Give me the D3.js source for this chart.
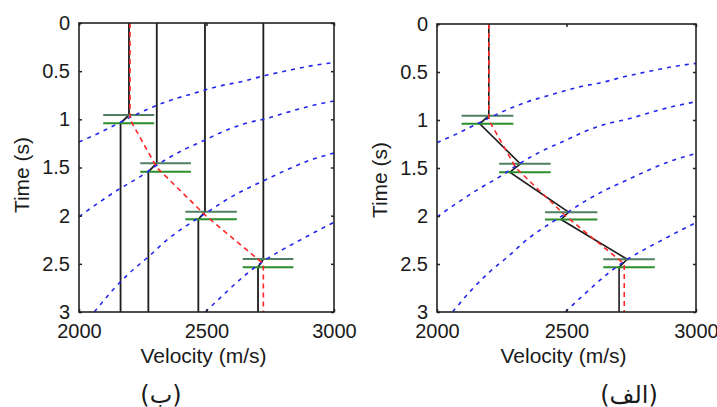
<!DOCTYPE html>
<html>
<head>
<meta charset="utf-8">
<script src="https://cdn.jsdelivr.net/npm/d3@7"></script>
<style>
  html, body { margin: 0; padding: 0; background: #fff; }
  svg { display: block; }
  text { font-family: "Liberation Sans", Arial, "DejaVu Sans", sans-serif; fill: #1a1a1a; }
</style>
</head>
<body>
<svg id="chart" width="717" height="407"></svg>
<script>
// ---------- data ----------
const velTicks = [2000, 2500, 3000];
const timeTicks = [0, 0.5, 1, 1.5, 2, 2.5, 3];
const timeTickLabels = ["0", "0.5", "1", "1.5", "2", "2.5", "3"];
const velTickLabels = ["2000", "2500", "3000"];
const panelLabels = ["(ب)", "(الف)"];
const xTitle = "Velocity (m/s)";
const yTitle = "Time (s)";

// blue dashed moveout curves (velocity, time)
const curve1V = [2000, 2080, 2170, 2260, 2350, 2450, 2550, 2640, 2730, 2820, 2910, 3000];
const curve1T = [1.235, 1.14, 1.02, 0.905, 0.81, 0.73, 0.655, 0.607, 0.545, 0.493, 0.445, 0.41];
const curve2V = [2000, 2080, 2160, 2240, 2315, 2400, 2490, 2580, 2670, 2730, 2820, 2910, 3000];
const curve2T = [2.01, 1.86, 1.72, 1.595, 1.46, 1.33, 1.22, 1.11, 1.03, 0.995, 0.925, 0.86, 0.81];
const curve3V = [2060, 2130, 2200, 2275, 2350, 2430, 2500, 2575, 2650, 2730, 2810, 2900, 3000];
const curve3T = [3.0, 2.78, 2.59, 2.42, 2.24, 2.09, 1.97, 1.84, 1.73, 1.63, 1.53, 1.43, 1.35];
const curve4V = [2495, 2575, 2655, 2730, 2800, 2870, 2940, 3000];
const curve4T = [3.0, 2.80, 2.61, 2.46, 2.35, 2.25, 2.15, 2.07];

// green pick bars
const pickTopT = [0.955, 1.457, 1.96, 2.45];
const pickBotT = [1.04, 1.543, 2.037, 2.535];
const barLeftV = [2095, 2240, 2417, 2642];
const barRightV = [2295, 2439, 2619, 2841];

// black step lines, panel (ب)
const stepTopV = [2196, 2305, 2494, 2723];
const stepBotV = [2163, 2272, 2468, 2702];
// black zig-zag line, panel (الف)
const zigTopV = [2200, 2322, 2508, 2734];
const zigBotV = [2165, 2281, 2479, 2703];

// red dashed reference
const refV = [2200, 2200, 2305, 2497, 2723, 2723];
const refT = [0, 1.0, 1.5, 2.0, 2.5, 3.0];

// ---------- drawing ----------
const svg = d3.select("#chart");
const panels = [
  { x0: 79, x1: 334, y0: 23, y1: 312, label: panelLabels[0], labelX: 161, titleY: 175, kind: "steps" },
  { x0: 437, x1: 696, y0: 24, y1: 312, label: panelLabels[1], labelX: 629, titleY: 180, kind: "zig" }
];

const curves = [
  [curve1V, curve1T], [curve2V, curve2T], [curve3V, curve3T], [curve4V, curve4T]
];

panels.forEach((p, pi) => {
  const x = d3.scaleLinear().domain([2000, 3000]).range([p.x0, p.x1]);
  const y = d3.scaleLinear().domain([0, 3]).range([p.y0, p.y1]);
  const g = svg.append("g");
  const clipId = "clip" + pi;
  svg.append("clipPath").attr("id", clipId)
    .append("rect").attr("x", p.x0).attr("y", p.y0)
    .attr("width", p.x1 - p.x0).attr("height", p.y1 - p.y0);
  const plot = g.append("g").attr("clip-path", `url(#${clipId})`);

  const line = d3.line().x(d => x(d[0])).y(d => y(d[1]));

  // black lines
  if (p.kind === "steps") {
    stepTopV.forEach((v, i) => {
      const pts = [[v, 0], [v, pickTopT[i]], [stepBotV[i], pickBotT[i]], [stepBotV[i], 3]];
      plot.append("path").attr("d", line(pts))
        .attr("fill", "none").attr("stroke", "#1c1c1c").attr("stroke-width", 1.8);
    });
  } else {
    const pts = [[zigTopV[0], 0]];
    zigTopV.forEach((v, i) => {
      pts.push([v, pickTopT[i]]);
      pts.push([zigBotV[i], pickBotT[i]]);
    });
    pts.push([zigBotV[zigBotV.length - 1], 3]);
    plot.append("path").attr("d", line(pts))
      .attr("fill", "none").attr("stroke", "#1c1c1c").attr("stroke-width", 1.6);
  }

  // green bars
  pickTopT.forEach((t, i) => {
    plot.append("line")
      .attr("x1", x(barLeftV[i])).attr("x2", x(barRightV[i]))
      .attr("y1", y(t)).attr("y2", y(t))
      .attr("stroke", "#4f8062").attr("stroke-width", 2);
    plot.append("line")
      .attr("x1", x(barLeftV[i])).attr("x2", x(barRightV[i]))
      .attr("y1", y(pickBotT[i])).attr("y2", y(pickBotT[i]))
      .attr("stroke", "#2a8f2a").attr("stroke-width", 2);
  });

  // blue dashed curves
  const cl = d3.line().x(d => x(d[0])).y(d => y(d[1])).curve(d3.curveMonotoneX);
  curves.forEach(([vs, ts]) => {
    const pts = vs.map((v, i) => [v, ts[i]]);
    plot.append("path").attr("d", cl(pts))
      .attr("fill", "none").attr("stroke", "#2424f0").attr("stroke-width", 1.6)
      .attr("stroke-dasharray", "4,5");
  });

  // red dashed reference
  const rp = refV.map((v, i) => [v, refT[i]]);
  plot.append("path").attr("d", line(rp))
    .attr("fill", "none").attr("stroke", "#ff2626").attr("stroke-width", 1.6)
    .attr("stroke-dasharray", "5,4");

  // axes
  const fontSize = 20;
  const yl = g.append("g").attr("transform", `translate(${p.x0},0)`)
    .call(d3.axisLeft(y).tickValues(timeTicks).tickFormat((d, i) => timeTickLabels[i])
      .tickSizeInner(-3).tickSizeOuter(0).tickPadding(9));
  const yr = g.append("g").attr("transform", `translate(${p.x1},0)`)
    .call(d3.axisRight(y).tickValues(timeTicks).tickFormat("")
      .tickSizeInner(-3).tickSizeOuter(0));
  const xb = g.append("g").attr("transform", `translate(0,${p.y1})`)
    .call(d3.axisBottom(x).tickValues(velTicks).tickFormat((d, i) => velTickLabels[i])
      .tickSizeInner(-3).tickSizeOuter(0).tickPadding(12));
  const xt = g.append("g").attr("transform", `translate(0,${p.y0})`)
    .call(d3.axisTop(x).tickValues(velTicks).tickFormat("")
      .tickSizeInner(-3).tickSizeOuter(0));
  [yl, yr, xb, xt].forEach(a => {
    a.select(".domain").remove();
    a.selectAll(".tick line").attr("stroke", "#222").attr("stroke-width", 1.5);
    a.selectAll(".tick text").attr("font-size", fontSize)
      .style("font-family", "'Liberation Sans', Arial, sans-serif").attr("fill", "#1a1a1a");
  });

  // frame
  g.append("rect").attr("x", p.x0).attr("y", p.y0)
    .attr("width", p.x1 - p.x0).attr("height", p.y1 - p.y0)
    .attr("fill", "none").attr("stroke", "#222").attr("stroke-width", 1.6);

  // titles
  g.append("text").attr("x", (p.x0 + p.x1) / 2 - 3).attr("y", 363)
    .attr("text-anchor", "middle").attr("font-size", 21).text(xTitle);
  g.append("text")
    .attr("transform", `translate(${p.x0 - 50},${p.titleY}) rotate(-90)`)
    .attr("text-anchor", "middle").attr("font-size", 21).text(yTitle);

  // panel label
  g.append("text").attr("x", p.labelX).attr("y", 403)
    .attr("text-anchor", "middle").attr("font-size", 24)
    .style("font-family", "'DejaVu Sans', sans-serif").text(p.label);
});
</script>
</body>
</html>
